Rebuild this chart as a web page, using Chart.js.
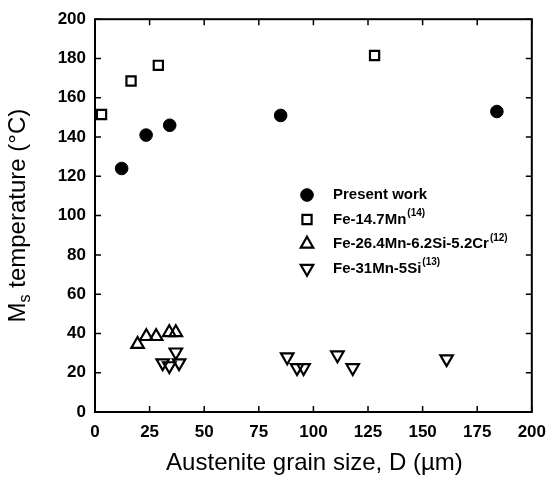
<!DOCTYPE html>
<html>
<head>
<meta charset="utf-8">
<script src="https://cdn.jsdelivr.net/npm/chart.js@4/dist/chart.umd.min.js"></script>
<style>
  html, body { margin: 0; padding: 0; background: #ffffff; }
  #wrap { width: 556px; height: 480px; }
</style>
</head>
<body>
<div id="wrap"><canvas id="c" width="556" height="480"></canvas></div>
<script>
// ---- data ----
const presentWorkX = [12.2, 23.4, 34.2, 85, 184];
const presentWorkY = [124, 141, 146, 151, 153];

const fe147MnX = [3, 16.5, 29, 128];
const fe147MnY = [151.5, 168.5, 176.5, 181.5];

const fe264MnX = [19.5, 23.5, 28, 34, 37];
const fe264MnY = [34.5, 38.5, 38.5, 40.5, 40.5];

const fe31MnX = [31, 34, 37, 38.5, 88, 92.5, 95.5, 111, 118, 161];
const fe31MnY = [25, 23.5, 30.5, 25, 28, 22.5, 22.5, 29, 22.5, 27];

const seriesNames = ['Present work', 'Fe-14.7Mn', 'Fe-26.4Mn-6.2Si-5.2Cr', 'Fe-31Mn-5Si'];
const seriesRefs = ['', '(14)', '(12)', '(13)'];

const xTicks = [0, 25, 50, 75, 100, 125, 150, 175, 200];
const yTicks = [0, 20, 40, 60, 80, 100, 120, 140, 160, 180, 200];

const xTitle = 'Austenite grain size, D (\u00b5m)';
const yTitleMain = 'M';
const yTitleSub = 's';
const yTitleRest = ' temperature (\u00b0C)';

// ---- build datasets ----
function pts(xs, ys) { return xs.map((x, i) => ({ x: x, y: ys[i] })); }

const FONT = '"Liberation Sans", Arial, sans-serif';

const datasets = [
  { label: seriesNames[0], data: pts(presentWorkX, presentWorkY), pointStyle: 'circle', pointRadius: 6.3,
    backgroundColor: '#000', borderColor: '#000', borderWidth: 1, rotation: 0 },
  { label: seriesNames[1], data: pts(fe147MnX, fe147MnY), pointStyle: 'rect', pointRadius: 6.5,
    backgroundColor: '#fff', borderColor: '#000', borderWidth: 2.2, rotation: 0 },
  { label: seriesNames[2], data: pts(fe264MnX, fe264MnY), pointStyle: 'triangle', pointRadius: 7.2,
    backgroundColor: 'rgba(255,255,255,0)', borderColor: '#000', borderWidth: 2.2, rotation: 0 },
  { label: seriesNames[3], data: pts(fe31MnX, fe31MnY), pointStyle: 'triangle', pointRadius: 7.2,
    backgroundColor: 'rgba(255,255,255,0)', borderColor: '#000', borderWidth: 2.2, rotation: 180 }
];
datasets.forEach(d => { d.pointRotation = d.rotation; d.pointBackgroundColor = d.backgroundColor;
  d.pointBorderColor = d.borderColor; d.pointBorderWidth = d.borderWidth; d.pointHoverRadius = d.pointRadius; });

// ---- plugin: frame with inward ticks, axis titles, legend ----
const decor = {
  id: 'decor',
  afterDraw(chart) {
    const ctx = chart.ctx;
    const a = chart.chartArea;
    const xs = chart.scales.x, ys = chart.scales.y;
    ctx.save();
    ctx.strokeStyle = '#000';
    ctx.lineWidth = 2;
    ctx.strokeRect(a.left, a.top, a.right - a.left, a.bottom - a.top);
    const tl = 6;
    ctx.lineWidth = 1.5;
    ctx.beginPath();
    xTicks.forEach(v => {
      const px = xs.getPixelForValue(v);
      ctx.moveTo(px, a.bottom); ctx.lineTo(px, a.bottom - tl);
      ctx.moveTo(px, a.top); ctx.lineTo(px, a.top + tl);
    });
    yTicks.forEach(v => {
      const py = ys.getPixelForValue(v);
      ctx.moveTo(a.left, py); ctx.lineTo(a.left + tl, py);
      ctx.moveTo(a.right, py); ctx.lineTo(a.right - tl, py);
    });
    ctx.stroke();

    // x title
    ctx.fillStyle = '#000';
    ctx.font = '24px ' + FONT;
    ctx.textAlign = 'center';
    ctx.textBaseline = 'alphabetic';
    ctx.fillText(xTitle, (a.left + a.right) / 2 + 1, 470);

    // y title (rotated, with subscript)
    ctx.save();
    ctx.translate(25, (a.top + a.bottom) / 2);
    ctx.rotate(-Math.PI / 2);
    ctx.textAlign = 'left';
    const big = '24px ' + FONT, small = '16px ' + FONT;
    ctx.font = big; const w1 = ctx.measureText(yTitleMain).width;
    ctx.font = small; const w2 = ctx.measureText(yTitleSub).width;
    ctx.font = big; const w3 = ctx.measureText(yTitleRest).width;
    let sx = -(w1 + w2 + w3) / 2;
    ctx.font = big; ctx.fillText(yTitleMain, sx, 0); sx += w1;
    ctx.font = small; ctx.fillText(yTitleSub, sx, 5); sx += w2;
    ctx.font = big; ctx.fillText(yTitleRest, sx, 0);
    ctx.restore();

    // legend
    const lx = 307, tx = 333, ly0 = 195, dy = 24.5;
    chart.data.datasets.forEach((ds, i) => {
      const y = ly0 + i * dy;
      const opts = { pointStyle: ds.pointStyle, radius: ds.pointRadius, rotation: ds.rotation,
        borderWidth: ds.borderWidth };
      ctx.fillStyle = ds.backgroundColor; ctx.strokeStyle = ds.borderColor; ctx.lineWidth = ds.borderWidth;
      Chart.helpers.drawPoint(ctx, opts, lx, y);
      ctx.fillStyle = '#000';
      ctx.textAlign = 'left';
      ctx.textBaseline = 'middle';
      ctx.font = 'bold 15px ' + FONT;
      ctx.fillText(seriesNames[i], tx, y);
      if (seriesRefs[i]) {
        const w = ctx.measureText(seriesNames[i]).width;
        ctx.font = 'bold 10px ' + FONT;
        ctx.fillText(seriesRefs[i], tx + w + 1, y - 6);
      }
    });
    ctx.restore();
  }
};

new Chart(document.getElementById('c'), {
  type: 'scatter',
  data: { datasets: datasets },
  options: {
    responsive: false,
    animation: false,
    events: [],
    layout: { padding: { top: 12, right: 17, left: 0, bottom: 0 } },
    plugins: { legend: { display: false }, tooltip: { enabled: false } },
    scales: {
      x: {
        type: 'linear', min: 0, max: 200,
        afterFit(s) { s.height = 68; },
        afterBuildTicks(s) { s.ticks = xTicks.map(v => ({ value: v })); },
        grid: { display: false, drawTicks: false },
        border: { display: false },
        ticks: { color: '#000', padding: 10, maxRotation: 0, autoSkip: false,
          font: { family: FONT, size: 17, weight: 'bold' } }
      },
      y: {
        type: 'linear', min: 0, max: 200,
        afterFit(s) { s.width = 95; },
        afterBuildTicks(s) { s.ticks = yTicks.map(v => ({ value: v })); },
        grid: { display: false, drawTicks: false },
        border: { display: false },
        ticks: { color: '#000', padding: 9, autoSkip: false,
          font: { family: FONT, size: 17, weight: 'bold' } }
      }
    }
  },
  plugins: [decor]
});
</script>
</body>
</html>
